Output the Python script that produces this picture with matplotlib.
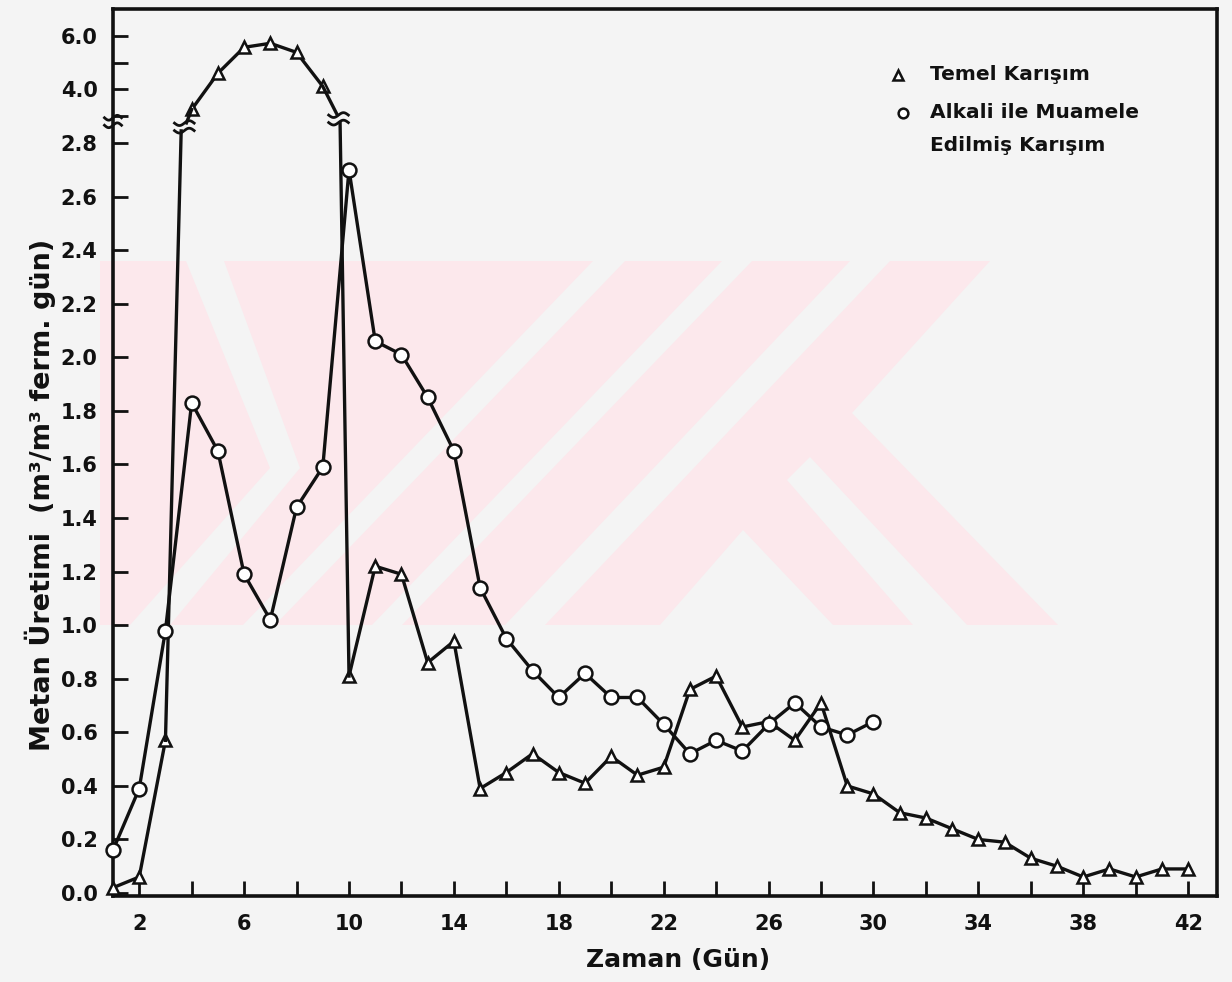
import numpy as np
import matplotlib
matplotlib.use("Agg")
import matplotlib.pyplot as plt
from matplotlib.patches import Polygon

# Temel Karisim (triangles), days 1-42
days_temel = list(range(1, 43))
temel = [0.02, 0.06, 0.57, 3.25, 4.6, 5.57, 5.72, 5.38, 4.11, 0.81,
         1.22, 1.19, 0.86, 0.94, 0.39, 0.45, 0.52, 0.45, 0.41, 0.51,
         0.44, 0.47, 0.76, 0.81, 0.62, 0.64, 0.57, 0.71, 0.40, 0.37,
         0.30, 0.28, 0.24, 0.20, 0.19, 0.13, 0.10, 0.06, 0.09, 0.06,
         0.09, 0.09]

# Alkali ile muamele edilmis karisim (circles), days 1-30
days_alkali = list(range(1, 31))
alkali = [0.16, 0.39, 0.98, 1.83, 1.65, 1.19, 1.02, 1.44, 1.59, 2.70,
          2.06, 2.01, 1.85, 1.65, 1.14, 0.95, 0.83, 0.73, 0.82, 0.73,
          0.73, 0.63, 0.52, 0.57, 0.53, 0.63, 0.71, 0.62, 0.59, 0.64]

x_ticks = list(range(2, 43, 2))
y_lower_ticks = [round(0.2 * i, 1) for i in range(15)]
y_upper_ticks = [3.0, 4.0, 5.0, 6.0]
y_upper_labels = ["", "4.0", "", "6.0"]

BG = "#f4f4f4"
INK = "#111111"
W, H = 1232, 982


def disp(v):
    # broken axis: values above 2.8 are drawn on a compressed scale
    return v if v <= 2.85 else 2.6 + 0.1 * v


def fx(px):
    return px / W


def fy(py):
    return 1 - py / H


fig = plt.figure(figsize=(12.32, 9.82), dpi=100, facecolor=BG)
ax = fig.add_axes([fx(113), fy(896), (1217 - 113) / W, (896 - 9) / H])
ax.set_facecolor("none")

# pale watermark in the background
pink = "#fce8ec"
wm_pink = [
    [(100, 261), (186, 261), (270, 468), (130, 625), (100, 625)],
    [(224, 261), (990, 261), (852, 413), (1058, 625), (170, 625), (300, 468)],
]
wm_white = [
    [(593, 261), (625, 261), (275, 625), (243, 625)],
    [(722, 261), (752, 261), (402, 625), (372, 625)],
    [(850, 261), (890, 261), (545, 625), (505, 625)],
    [(743, 530), (833, 625), (660, 625)],
    [(810, 457), (967, 625), (913, 625), (787, 480)],
]
for pts, col in [(p, pink) for p in wm_pink] + [(p, BG) for p in wm_white]:
    ax.add_patch(Polygon([(fx(a), fy(b)) for a, b in pts], closed=True,
                         facecolor=col, edgecolor="none",
                         transform=fig.transFigure, zorder=0.2, clip_on=False))

line_kw = dict(color=INK, lw=2.4, zorder=3, clip_on=False)
tri_kw = dict(marker="^", ms=9, mfc="white", mec=INK, mew=1.8)
cir_kw = dict(marker="o", ms=10, mfc="white", mec=INK, mew=1.8)

# triangles: lower part, upper part and the jumps across the break
t_disp = [disp(v) for v in temel]
ax.plot(days_temel[:3], t_disp[:3], **line_kw, **tri_kw)
ax.plot(days_temel[3:9], t_disp[3:9], **line_kw, **tri_kw)
ax.plot(days_temel[9:], t_disp[9:], **line_kw, **tri_kw)
ax.plot([days_temel[2], 3.6], [t_disp[2], 2.845], **line_kw)
ax.plot([3.8, days_temel[3]], [2.875, t_disp[3]], **line_kw)
ax.plot([days_temel[8], 9.55], [t_disp[8], 2.905], **line_kw)
ax.plot([9.66, days_temel[9]], [2.872, t_disp[9]], **line_kw)

# circles
ax.plot(days_alkali, [disp(v) for v in alkali], **line_kw, **cir_kw)


def break_mark(cx, cy, w=0.75, gap=0.028):
    t = np.linspace(-0.5, 0.5, 30)
    for dy in (-gap / 2, gap / 2):
        ax.plot(cx + t * w, cy + dy + 0.009 * np.sin(2 * np.pi * t),
                color=INK, lw=2.0, zorder=4, clip_on=False)


break_mark(3.72, 2.86)
break_mark(9.6, 2.89)
break_mark(1.0, 2.88, w=0.65)

ax.set_xlim(1.0, 43.1)
ax.set_ylim(-0.011, 3.30)

ax.set_xticks(x_ticks)
ax.set_xticklabels([str(x) if (x - 2) % 4 == 0 else "" for x in x_ticks])
ax.set_yticks(y_lower_ticks + [disp(v) for v in y_upper_ticks])
ax.set_yticklabels([f"{v:.1f}" for v in y_lower_ticks] + y_upper_labels)

ax.tick_params(axis="both", direction="in", length=11, width=2.0,
               colors=INK, labelsize=15)
ax.tick_params(axis="x", pad=13)
ax.tick_params(axis="y", pad=11)
for lab in ax.get_xticklabels() + ax.get_yticklabels():
    lab.set_fontweight("bold")
for sp in ax.spines.values():
    sp.set_linewidth(2.6)
    sp.set_color(INK)

# labels
fig.text(fx(678), fy(960), "Zaman (Gün)", ha="center", va="center",
         fontsize=18, fontweight="bold", color=INK)
fig.text(fx(40), fy(495), "Metan Üretimi  (m³/m³ ferm. gün)", rotation=90,
         ha="center", va="center", fontsize=19.5, fontweight="bold", color=INK)

# legend
ax.plot([fx(898)], [fy(75)], transform=fig.transFigure, clip_on=False,
        marker="^", ms=7, mfc="white", mec=INK, mew=1.8, ls="none")
ax.plot([fx(903)], [fy(113)], transform=fig.transFigure, clip_on=False,
        marker="o", ms=7, mfc="white", mec=INK, mew=1.8, ls="none")
for txt, py in [("Temel Karışım", 75), ("Alkali ile Muamele", 113),
                ("Edilmiş Karışım", 145)]:
    fig.text(fx(930), fy(py), txt, ha="left", va="center",
             fontsize=14.5, fontweight="bold", color=INK)

plt.savefig("out.png", dpi=100, facecolor=BG)
